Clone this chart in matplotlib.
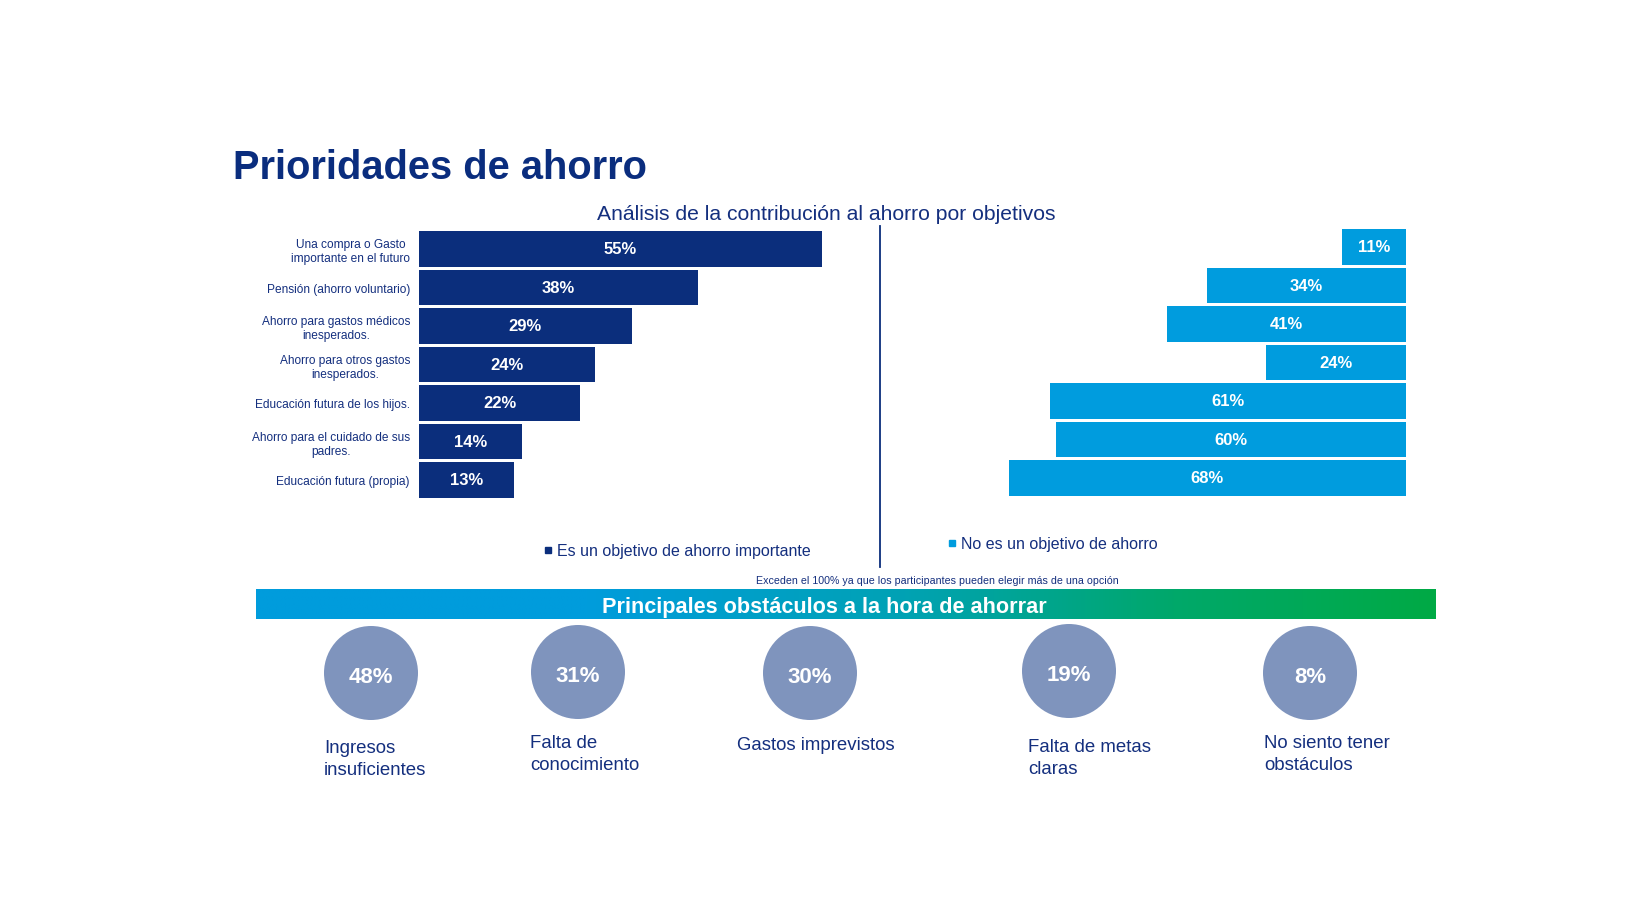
import numpy as np
import matplotlib
matplotlib.use("Agg")
import matplotlib.pyplot as plt
from matplotlib.patches import Circle
from matplotlib.colors import LinearSegmentedColormap

plt.rcParams["font.family"] = ["Liberation Sans", "DejaVu Sans"]

# data
goals = [
    "Una compra o Gasto\nimportante en el futuro",
    "Pensión (ahorro voluntario)",
    "Ahorro para gastos médicos\ninesperados.",
    "Ahorro para otros gastos\ninesperados.",
    "Educación futura de los hijos.",
    "Ahorro para el cuidado de sus\npadres.",
    "Educación futura (propia)",
]
important = [55, 38, 29, 24, 22, 14, 13]
not_goal = [11, 34, 41, 24, 61, 60, 68]

obstacles = [
    "Ingresos\ninsuficientes",
    "Falta de\nconocimiento",
    "Gastos imprevistos",
    "Falta de metas\nclaras",
    "No siento tener\nobstáculos",
]
obstacle_pct = [48, 31, 30, 19, 8]

NAVY = "#0b2e7c"
TEXT = "#142f7e"
BLUE = "#009cde"
CIRCLE = "#7f94bd"

W, H = 1637, 920
fig = plt.figure(figsize=(W / 100, H / 100), dpi=100)
fig.patch.set_facecolor("white")


def px_rect(left, top, width, height):
    return [left / W, 1 - (top + height) / H, width / W, height / H]


pitch = 38.5
ypos = np.arange(len(goals))

# left bars
ax1 = fig.add_axes(px_rect(419, 250 - pitch / 2, 60 * 7.33, 7 * pitch))
ax1.barh(ypos, important, height=0.935, color=NAVY)
ax1.set_xlim(0, 60)
ax1.set_ylim(6.5, -0.5)
ax1.set_yticks(ypos)
ax1.set_yticklabels(goals, fontsize=8.6, color=TEXT, linespacing=1.2,
                    multialignment="center")
ax1.tick_params(axis="y", length=0, pad=6.5)
ax1.set_xticks([])
for s in ax1.spines.values():
    s.set_visible(False)
ax1.patch.set_alpha(0)
for y, v in zip(ypos, important):
    ax1.text(v / 2, y, f"{v}%", color="white", fontsize=12,
             fontweight="bold", ha="center", va="center")

# right bars
ax2 = fig.add_axes(px_rect(1406 - 70 * 5.84, 248 - pitch / 2, 70 * 5.84, 7 * pitch))
ax2.barh(ypos, not_goal, height=0.935, color=BLUE)
ax2.set_xlim(70, 0)
ax2.set_ylim(6.5, -0.5)
ax2.set_xticks([])
ax2.set_yticks([])
for s in ax2.spines.values():
    s.set_visible(False)
ax2.patch.set_alpha(0)
for y, v in zip(ypos, not_goal):
    ax2.text(v / 2, y, f"{v}%", color="white", fontsize=12,
             fontweight="bold", ha="center", va="center")

# overlay in pixel coordinates
ov = fig.add_axes([0, 0, 1, 1])
ov.set_xlim(0, W)
ov.set_ylim(H, 0)
ov.axis("off")
ov.patch.set_alpha(0)

ov.text(233, 179, "Prioridades de ahorro", fontsize=28.7, fontweight="bold",
        color="#0a2d7e", ha="left", va="baseline")
ov.text(826, 214, "Análisis de la contribución al ahorro por objetivos",
        fontsize=15.2, color=TEXT, ha="center", va="center")

ov.plot([880, 880], [227, 568], color=NAVY, lw=1.3)

ov.plot([548], [551], marker="s", ms=4.5, color=NAVY, ls="none")
ov.text(557, 552, "Es un objetivo de ahorro importante", fontsize=11.5,
        color=TEXT, ha="left", va="center")
ov.plot([952], [544], marker="s", ms=4.5, color=BLUE, ls="none")
ov.text(961, 545, "No es un objetivo de ahorro", fontsize=11.5,
        color=TEXT, ha="left", va="center")

ov.text(937, 581, "Exceden el 100% ya que los participantes pueden elegir más de una opción",
        fontsize=7.7, color=TEXT, ha="center", va="center")

# gradient band
cmap = LinearSegmentedColormap.from_list(
    "band", [(0, "#009cdc"), (0.28, "#009cdc"), (0.55, "#00a2b4"),
             (0.78, "#00a86a"), (1, "#00aa45")])
grad = np.linspace(0, 1, 512).reshape(1, -1)
ov.imshow(grad, cmap=cmap, aspect="auto", extent=(256, 1436, 620, 590),
          interpolation="bilinear")
ov.set_xlim(0, W)
ov.set_ylim(H, 0)
ov.text(824, 608, "Principales obstáculos a la hora de ahorrar", fontsize=15.6,
        fontweight="bold", color="white", ha="center", va="center")

# circles
cx = [371, 578, 810, 1069, 1310]
cy = [674, 673, 674, 672, 674]
lx = [324, 530, 737, 1028, 1264]
ly = [740, 735, 737, 739, 735]
for x, y, p, lab, tx, ty in zip(cx, cy, obstacle_pct, obstacles, lx, ly):
    ov.add_patch(Circle((x, y), 47, color=CIRCLE, lw=0))
    ov.text(x, y + 4, f"{p}%", fontsize=16, fontweight="bold", color="white",
            ha="center", va="center")
    ov.text(tx, ty, lab, fontsize=13.4, color=TEXT, ha="left", va="top",
            linespacing=1.42)

fig.savefig("out.png", dpi=100, facecolor="white")
